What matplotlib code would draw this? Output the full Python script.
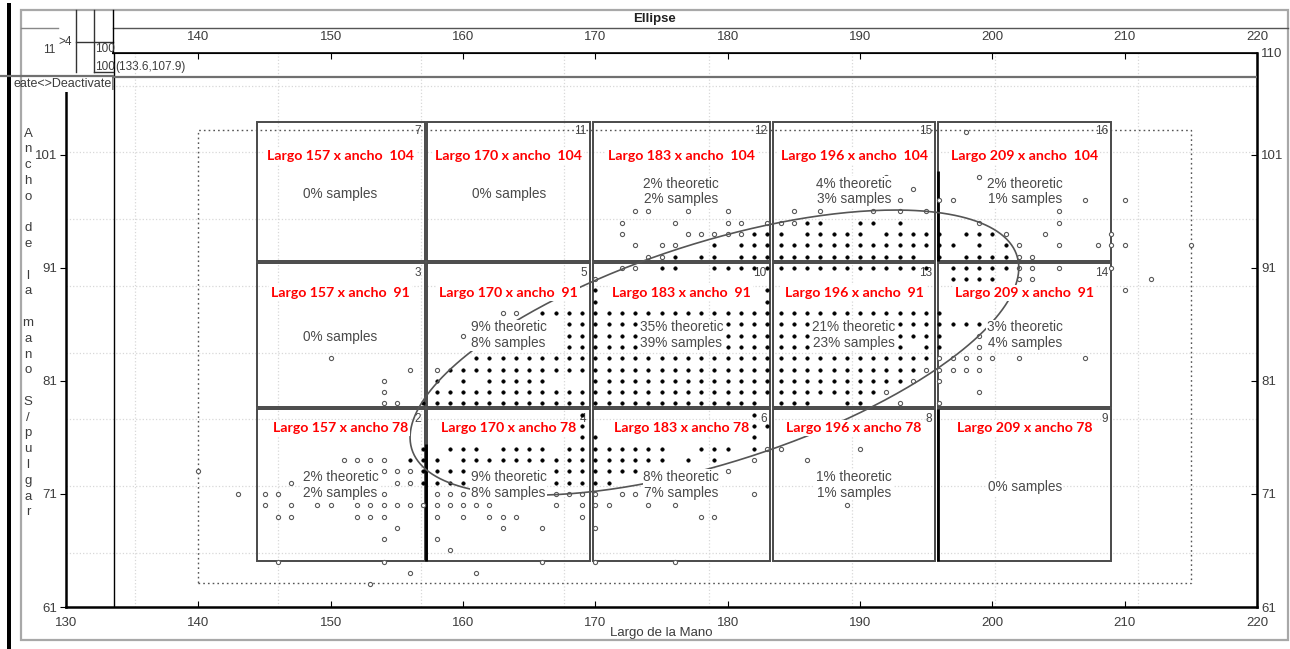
import numpy as np
import matplotlib
matplotlib.use('Agg')
import matplotlib.pyplot as plt
from matplotlib.lines import Line2D
from matplotlib.patches import Rectangle

W, H = 1290, 649

# grid cells (largo x ancho), edges
cell_left = [144.4, 157.3, 169.8, 183.4, 195.9]
cell_right = [157.1, 169.6, 183.2, 195.7, 209.0]
row_bottom = [91.6, 78.7, 65.1]
row_top = [103.9, 91.4, 78.5]
largo = [157, 170, 183, 196, 209]
ancho = [104, 91, 78]
cell_ids = [[7, 11, 12, 15, 16], [3, 5, 10, 13, 14], [2, 4, 6, 8, 9]]
theoretic = [[None, None, 2, 4, 2], [None, 9, 35, 21, 3], [2, 9, 8, 1, None]]
samples = [[0, 0, 2, 3, 1], [0, 8, 39, 23, 4], [2, 8, 7, 1, 0]]

# darker (selected) border pieces: x, y from, y to
dark_x = [195.9, 195.9, 157.2]
dark_y0 = [91.6, 65.1, 65.1]
dark_y1 = [99.6, 78.5, 75.4]

# dotted outer box
box_x = [140, 215]
box_y = [63.1, 103.2]

# ellipse: centre and covariance at drawn level
ell_center = [179.0, 83.5]
ell_cov = [[529.0, 172.5], [172.5, 159.0]]

# samples inside the ellipse (filled), by ancho row -> largo values
filled_rows = {
    95: [186, 187, 190, 191, 193],
    94: [182, 183, 184, 186, 187, 188, 189, 190, 192, 193, 194, 195, 196, 198, 199, 200],
    93: [179, 181, 182, 183, 184, 185, 186, 187, 188, 189, 190, 191, 192, 193, 194, 195,
         196, 197, 199, 201],
    92: [176, 178, 179, 181, 182, 183, 184, 185, 186, 187, 188, 189, 190, 191, 192, 193,
         194, 196, 198, 199, 200, 201],
    91: [175, 176, 179, 180, 181, 182, 183, 184, 185, 186, 187, 188, 189, 190, 191, 192,
         193, 194, 195, 197, 198, 199, 200, 201],
    90: [197, 198, 199, 200],
    89: [170, 183],
    88: [170, 183],
    87: [166, 167, 168, 169, 170, 171, 172, 173, 174, 175, 176, 177, 178, 179, 180, 181,
         182, 183, 184, 185, 186, 187, 188, 189, 190, 191, 192, 193, 194, 195, 196],
    86: [168, 169, 170, 171, 172, 173, 180, 181, 182, 183, 184, 185, 186, 193, 194, 195,
         196, 197, 198, 199],
    85: [166, 168, 169, 170, 171, 172, 173, 180, 181, 182, 183, 184, 185, 186, 193, 194,
         195, 196],
    84: [166, 168, 169, 170, 171, 172, 173, 180, 181, 182, 183, 184, 185, 186, 193, 195, 196],
    83: [161, 162, 163, 164, 165, 166, 167, 168, 169, 170, 171, 172, 173, 174, 175, 176,
         177, 178, 179, 180, 181, 182, 183, 184, 185, 186, 187, 188, 189, 190, 191, 192,
         193, 194, 195],
    82: [159, 160, 161, 162, 163, 164, 165, 166, 167, 168, 169, 170, 171, 172, 173, 174,
         175, 176, 177, 178, 179, 180, 181, 182, 183, 184, 185, 186, 187, 188, 189, 190,
         191, 192, 193, 194],
    81: [158, 160, 162, 163, 164, 165, 166, 170, 171, 172, 173, 174, 175, 176, 177, 178,
         179, 180, 181, 182, 183, 184, 185, 186, 187, 188, 189, 190, 191, 192, 193],
    80: [158, 159, 160, 161, 162, 163, 164, 165, 166, 167, 168, 169, 170, 171, 172, 173,
         174, 175, 176, 177, 178, 179, 180, 181, 182, 183, 184, 185, 186, 187, 188, 189,
         190, 191],
    79: [157, 158, 159, 160, 161, 162, 163, 164, 165, 166, 167, 168, 169, 170, 171, 172,
         173, 174, 175, 176, 177, 178, 179, 180, 181, 182, 184, 185, 186, 189, 190],
    78: [169, 182],
    77: [169, 182, 183],
    76: [169, 170, 182],
    75: [157, 159, 160, 161, 163, 164, 165, 166, 168, 169, 170, 171, 172, 173, 174, 175,
         178, 179, 180, 182],
    74: [156, 157, 158, 160, 161, 162, 163, 164, 165, 166, 167, 168, 169, 170, 171, 172,
         173, 174, 175, 177, 179],
    73: [157, 158, 159, 160, 166, 167, 168, 169, 170, 171, 172, 173],
    72: [157, 158, 159, 160, 166, 167, 168, 169, 170, 171],
}

# samples outside the ellipse (open)
open_rows = {
    103: [198],
    99: [192, 199],
    98: [194],
    97: [193, 196, 197, 205, 207, 210],
    96: [173, 174, 177, 180, 185, 187, 191, 193, 195, 205],
    95: [172, 176, 180, 181, 183, 184, 185, 199, 205],
    94: [172, 177, 178, 179, 180, 181, 201, 204, 209],
    93: [173, 175, 176, 202, 205, 208, 209, 210, 215],
    92: [174, 175, 202, 203],
    91: [172, 173, 202, 203, 205, 209],
    90: [170, 202, 203, 212],
    89: [210],
    87: [163, 164],
    86: [200],
    85: [160, 199],
    84: [199],
    83: [150, 196, 197, 198, 199, 200, 202, 207],
    82: [156, 158, 195, 196, 197, 198, 199],
    81: [154, 194, 196],
    80: [154, 192, 199],
    79: [154, 155, 193, 196],
    75: [183, 184, 190],
    74: [151, 152, 153, 154, 182, 186],
    73: [140, 154, 155, 156, 179, 180],
    72: [147, 155, 156, 179],
    71: [143, 145, 146, 154, 158, 159, 160, 167, 168, 169, 170, 172, 173, 182],
    70: [145, 147, 149, 150, 152, 153, 154, 155, 156, 157, 158, 159, 160, 161, 162, 167,
         169, 170, 171, 174, 176, 189],
    69: [146, 147, 152, 153, 154, 158, 160, 162, 163, 164, 169, 178, 179],
    68: [155, 163, 166, 170],
    67: [154, 158],
    66: [159],
    65: [146, 154, 166, 170, 176],
    64: [156, 161],
    63: [153],
}

x_ticks = [130, 140, 150, 160, 170, 180, 190, 200, 210, 220]
top_ticks = [140, 150, 160, 170, 180, 190, 200, 210, 220]
y_ticks = [61, 71, 81, 91, 101]
right_ticks = [61, 71, 81, 91, 101, 110]
grid_x = [135.2, 146.0, 156.8, 167.6, 178.6, 189.4, 200.2, 211.0]
grid_y = [65.8, 71.7, 77.6, 83.5, 89.4, 95.3, 101.2, 107.1]
cursor = (133.6, 107.9)

plt.rcParams['font.family'] = ['Liberation Sans', 'DejaVu Sans']
RED_FONT = ['Lato', 'Liberation Sans', 'DejaVu Sans']
TXT = '#3c3c3c'


def fx(px):
    return px / W


def fy(py):
    return 1 - py / H


fig = plt.figure(figsize=(W / 100, H / 100), dpi=100)
ax = fig.add_axes([fx(66), fy(607), fx(1257) - fx(66), fy(53) - fy(607)])
ax.set_xlim(130, 220)
ax.set_ylim(61, 110)

for g in grid_x:
    ax.axvline(g, color='#d8d8d8', ls=':', lw=0.9, zorder=0)
for g in grid_y:
    ax.axhline(g, color='#d8d8d8', ls=':', lw=0.9, zorder=0)

# dotted outer box
ax.add_patch(Rectangle((box_x[0], box_y[0]), box_x[1] - box_x[0], box_y[1] - box_y[0],
                       fill=False, ec='#555555', ls=(0, (1.2, 2.2)), lw=1.0, zorder=1))

# cells
for r in range(3):
    for c in range(5):
        ax.add_patch(Rectangle((cell_left[c], row_bottom[r]),
                               cell_right[c] - cell_left[c], row_top[r] - row_bottom[r],
                               fill=False, ec='#4a4a4a', lw=1.4, zorder=2))
        ax.text(cell_right[c] - 0.25, row_top[r] - 0.3, str(cell_ids[r][c]),
                ha='right', va='top', fontsize=8.5, color='#444444', zorder=3)
ax.vlines(dark_x, dark_y0, dark_y1, colors='black', lw=2.0, zorder=3)

# points
ox, oy, px_, py_ = [], [], [], []
for yv, xs in open_rows.items():
    for xv in xs:
        ox.append(xv)
        oy.append(yv)
for yv, xs in filled_rows.items():
    for xv in xs:
        px_.append(xv)
        py_.append(yv)
ax.plot(ox, oy, 'o', ms=3.0, mfc='white', mec='#5a5a5a', mew=0.8, ls='none', zorder=4)
ax.plot(px_, py_, 'o', ms=2.6, mfc='black', mec='black', mew=0.3, ls='none', zorder=4)

# ellipse
L = np.linalg.cholesky(np.array(ell_cov))
t = np.linspace(0, 2 * np.pi, 400)
pts = L @ np.vstack([np.cos(t), np.sin(t)])
ax.plot(ell_center[0] + pts[0], ell_center[1] + pts[1], color='#555555', lw=1.2, zorder=5)

# cursor lines inside the plot
ax.axvline(cursor[0], color='black', lw=1.0, zorder=6)
ax.axhline(cursor[1], color='#707070', lw=1.6, zorder=6)

# texts in cells
label_y = [100.9, 88.8, 76.8]
for r in range(3):
    sep = '  ' if r < 2 else ' '
    for c in range(5):
        cx = (cell_left[c] + cell_right[c]) / 2
        cy = (row_bottom[r] + row_top[r]) / 2
        ax.text(cx, label_y[r], 'Largo %d x ancho%s%d' % (largo[c], sep, ancho[r]),
                ha='center', va='center', color='#ff0000', fontsize=10.2,
                fontweight='bold', family=RED_FONT, zorder=7,
                bbox=dict(fc='white', ec='none', pad=1.5))
        if theoretic[r][c] is None:
            s = '%d%% samples' % samples[r][c]
            cy -= 0.2
        else:
            s = '%d%% theoretic\n%d%% samples' % (theoretic[r][c], samples[r][c])
        ax.text(cx, cy, s, ha='center', va='center', color='#4a4a4a', fontsize=9.8,
                linespacing=1.15, zorder=7, bbox=dict(fc='white', ec='none', pad=0.5))

# axes look
for s in ['left', 'bottom', 'right']:
    ax.spines[s].set_linewidth(1.8)
ax.spines['top'].set_linewidth(1.2)
ax.set_xticks(x_ticks)
ax.set_yticks(y_ticks)
ax.tick_params(axis='x', direction='in', length=4, pad=7, labelsize=9.5, labelcolor=TXT)
ax.tick_params(axis='y', direction='out', length=4, pad=2, labelsize=9.5, labelcolor=TXT)

top = ax.secondary_xaxis('top')
top.set_xticks(top_ticks)
top.tick_params(direction='in', length=4, pad=7, labelsize=9.5, labelcolor=TXT)
right = ax.secondary_yaxis('right')
right.set_yticks(right_ticks)
right.tick_params(direction='in', length=4, pad=3, labelsize=9.5, labelcolor=TXT)

ax.set_xlabel('Largo de la Mano', fontsize=9.5, color=TXT)
ax.xaxis.set_label_coords(0.5, -(627 - 607) / (607 - 53))

# stacked y label
ylab = 'Ancho de la mano S/pulgar'
ax.text(fx(28), fy(323), '\n'.join(list(ylab)), transform=fig.transFigure,
        ha='center', va='center', fontsize=9.5, color=TXT, linespacing=1.42)

# window chrome
def fline(x0, y0, x1, y1, **kw):
    fig.add_artist(Line2D([fx(x0), fx(x1)], [fy(y0), fy(y1)], **kw))


fig.add_artist(Rectangle((fx(7), fy(649)), fx(4), fy(3) - fy(649), fc='black', ec='none',
                         transform=fig.transFigure))
fig.add_artist(Rectangle((fx(22), fy(92)), fx(112) - fx(22), fy(11) - fy(92), fc='white',
                         ec='none', transform=fig.transFigure, zorder=8))
fig.add_artist(Rectangle((fx(21), fy(640)), fx(1288) - fx(21), fy(10) - fy(640), fill=False,
                         ec='#a8a8a8', lw=1.6, transform=fig.transFigure, zorder=9))
fline(113, 27.5, 1288, 27.5, color='#555555', lw=1.0, zorder=9)
fline(21, 27.5, 58, 27.5, color='#888888', lw=1.0, zorder=9)
fline(76, 10, 76, 72, color='#333333', lw=1.0, zorder=9)
fline(94, 10, 94, 72, color='#333333', lw=1.0, zorder=9)
fline(76, 42, 113, 42, color='#333333', lw=1.0, zorder=9)
fline(94, 72, 113, 72, color='#333333', lw=1.0, zorder=9)
fline(113, 10, 113, 53, color='black', lw=1.0, zorder=9)
fline(0, 76.3, 113, 76.3, color='#707070', lw=1.6, zorder=9)
fig.text(fx(655), fy(19), 'Ellipse', ha='center', va='center', fontsize=9.5,
         fontweight='bold', color='#222222', zorder=10)
fig.text(fx(55), fy(50), '11', ha='right', va='center', fontsize=8.5, color=TXT, zorder=10)
fig.text(fx(58), fy(42), '>4', ha='left', va='center', fontsize=8.5, color=TXT, zorder=10)
fig.text(fx(95), fy(49), '100', ha='left', va='center', fontsize=8.5, color=TXT, zorder=10)
fig.text(fx(95), fy(67), '100', ha='left', va='center', fontsize=8.5, color=TXT, zorder=10)
fig.text(fx(115), fy(67), '(133.6,107.9)', ha='left', va='center', fontsize=8.5,
         color=TXT, zorder=10)
fig.text(fx(13), fy(84), 'eate<>Deactivate|', ha='left', va='center', fontsize=9,
         color=TXT, zorder=10)

fig.savefig('out.png', dpi=100)
